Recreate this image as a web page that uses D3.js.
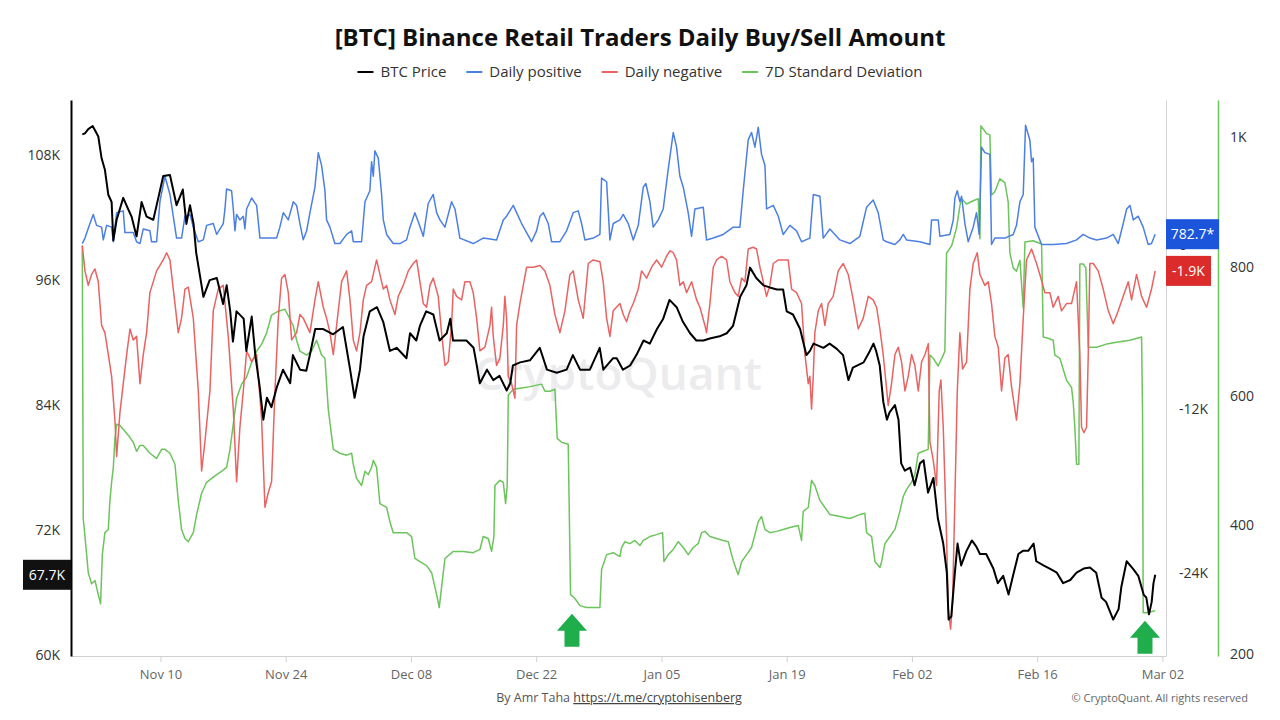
<!DOCTYPE html>
<html>
<head>
<meta charset="utf-8">
<script src="https://cdn.jsdelivr.net/npm/d3@7"></script>
<style>
body{margin:0;background:#ffffff;}
svg text{font-family:"Open Sans","Noto Sans",sans-serif;}
</style>
</head>
<body>
<div id="chart"></div>
<script>
// all series: [days since 2025-11-01 00:00 UTC, value]
let btcPrice = [[0.26,110.0],[0.56,110.1],[0.93,110.5],[1.42,110.8],[1.86,110.1],[2.05,109.8],[2.42,107.7],[2.79,106.6],[3.17,104.2],[3.54,103.5],[3.73,99.8],[4.10,101.8],[4.84,103.9],[5.40,102.8],[5.77,102.1],[6.33,100.2],[6.89,103.5],[7.45,102.1],[8.20,101.8],[8.76,103.9],[9.31,106.0],[10.06,106.1],[10.80,103.2],[11.50,104.7],[11.90,101.4],[12.30,103.2],[12.70,101.4],[13.00,98.6],[13.40,96.5],[13.80,94.4],[14.50,96.0],[15.30,96.2],[16.00,93.7],[16.40,95.5],[16.80,93.0],[17.10,90.1],[17.50,93.0],[18.30,92.3],[18.60,89.2],[19.20,92.5],[19.60,88.8],[20.10,85.7],[20.50,82.6],[20.90,84.7],[21.40,83.8],[22.00,85.7],[22.70,87.4],[23.50,86.1],[23.80,88.8],[24.60,87.4],[25.30,87.3],[25.70,88.8],[26.30,91.3],[27.20,91.3],[28.30,90.8],[29.40,91.5],
  [30.2,87.4],[30.7,84.7],[31.3,87.4],[31.7,90.6],[32.4,93.0],[33.2,93.4],[33.9,92.0],[34.65,89.2],[35.4,89.5],[36.5,88.5],[36.9,90.9],[37.6,90.2],[38.0,91.6],[38.7,93.0],[39.5,92.7],[40.2,90.2],[41.0,90.9],[41.4,92.3],[41.7,90.2],[43.2,90.2],[44.0,89.5],[44.3,88.1],[44.7,86.1],[45.5,87.4],[46.2,86.4],[46.9,86.8],[47.7,85.4],[48.1,86.1],[48.4,87.8],[49.2,88.1],[50.3,88.3],[51.4,89.5],[52.2,87.4],[53.3,87.1],[54.4,87.4],[55.1,88.8],[55.9,87.4],[57.0,87.4],[58.1,89.5],[58.5,87.4],[59.6,88.5],
  [60.0,88.5],[60.7,87.4],[61.5,87.8],[62.2,88.8],[63.0,90.2],[63.7,89.9],[64.5,91.3],[65.2,92.3],[65.9,94.1],[66.7,93.4],[67.4,92.0],[68.2,90.9],[68.9,90.2],[69.7,90.2],[70.4,90.4],[71.5,90.6],[72.3,90.9],[73.0,91.6],[73.8,94.4],[74.5,95.5],[74.9,97.2],[75.6,96.2],[76.4,95.5],[77.1,95.3],[77.9,95.1],[78.6,95.1],[79.0,93.0],[79.7,92.7],[80.5,91.3],[81.2,88.8],[81.6,89.2],[82.0,89.9],[83.1,89.5],[83.8,89.9],[84.6,89.4],[85.3,88.8],[85.9,86.4],[86.4,87.6],[87.6,88.1],[88.3,89.2],[88.7,89.9],[89.0,89.2],
  [89.4,87.8],[89.8,84.3],[90.2,82.6],[90.5,83.3],[91.1,84.0],[91.5,82.6],[91.8,78.4],[92.2,77.7],[92.8,78.0],[93.3,76.3],[93.9,78.4],[94.3,78.7],[94.8,75.6],[95.4,77.0],[95.9,73.1],[96.5,70.7],[96.9,67.9],[97.1,63.4],[97.4,63.7],[97.8,67.9],[98.1,70.7],[98.5,68.6],[99.1,70.0],[99.7,71.0],[100.2,70.4],[100.6,69.7],[101.3,69.7],[102.1,68.3],[102.6,66.9],[103.2,67.6],[103.8,65.8],[104.3,67.6],[104.9,69.7],[105.4,70.0],[106.0,70.0],[106.6,70.7],[106.9,69.0],[107.7,68.6],[108.4,68.3],[109.2,67.9],[109.9,66.9],[110.7,67.2],[111.4,67.9],[112.2,68.3],[112.9,68.4],[113.6,67.9],[114.2,65.5],[114.7,65.1],[115.5,63.4],[116.1,64.4],[116.4,66.5],[117.0,69.0],[117.7,68.3],[118.3,67.6],[118.9,65.8],[119.2,65.5],[119.5,63.9],[119.8,65.1],[120.0,66.9],[120.2,67.7]];

let dailyPositive = [[0.26,100],[0.56,500],[1.12,1560],[1.49,2230],[1.86,1430],[2.42,1300],[2.61,370],[2.98,1430],[3.54,1300],[3.73,230],[4.10,2360],[4.84,2490],[5.03,900],[5.96,900],[6.33,230],[6.71,100],[7.08,1170],[7.82,1030],[8.01,230],[8.57,230],[8.94,3160],[9.50,5020],[10.06,3690],[10.43,2100],[10.80,500],[11.36,500],[11.74,2100],[12.30,2230],[12.67,1300],[13.23,230],[13.79,370],[14.16,1430],[14.90,1560],[15.28,770],[16.02,1560],[16.21,2630],[16.39,4090],[16.95,3960],[17.14,2630],[17.33,1030],[17.51,2230],[17.88,1830],[18.26,2100],[18.44,1170],[18.63,2630],[19.19,3430],[19.75,2890],[20.12,500],[20.86,500],[21.98,500],[22.35,1300],[22.73,2360],[23.29,1830],[23.85,3160],[24.22,2890],[24.59,1560],[24.96,370],[25.34,1030],[25.71,2360],[26.27,4225],[26.64,6750],[27.01,5820],[27.38,4000],[27.57,1830],[27.94,1300],[28.50,100],[29.06,100],[29.81,770],
  [30.37,1030],[30.55,233],[31.48,233],[31.86,3160],[32.41,3960],[32.60,6090],[32.79,5020],[32.97,6880],[33.35,6350],[33.72,3690],[33.91,1830],[34.28,765],[35.02,100],[35.77,100],[36.51,366],[36.89,1300],[37.44,2360],[37.82,1700],[38.38,632],[38.93,3030],[39.49,3690],[39.87,2360],[40.24,1830],[40.80,1300],[41.54,3160],[41.92,2630],[42.47,500],[43.96,100],[45.08,500],[46.57,366],[47.32,1830],[47.69,2100],[48.44,2890],[48.81,2360],[49.37,1565],[49.93,900],[50.48,233],[51.04,1030],[51.42,2100],[51.79,2360],[52.35,1565],[52.72,233],[53.65,233],[54.40,1030],[55.14,2360],[55.70,2490],[56.07,1565],[56.45,366],[57.38,500],[58.12,765],[58.31,4890],[58.87,4620],[59.24,366],[59.61,1565],[60.36,1830],
  [60.73,2230],[61.29,1565],[61.85,366],[62.41,1430],[62.97,4225],[63.26,4490],[63.71,3160],[64.08,1300],[64.64,1830],[65.20,2630],[65.76,5550],[66.32,8220],[66.69,7150],[67.06,5020],[67.44,4225],[67.99,2360],[68.37,632],[68.74,2630],[69.67,2760],[70.04,366],[70.79,500],[71.91,765],[73.03,1300],[73.77,1300],[74.14,3960],[74.70,7680],[75.07,8220],[75.45,7150],[75.82,8610],[76.19,6620],[76.57,5820],[76.75,2630],[77.50,2890],[78.06,2100],[78.61,765],[79.36,1430],[80.10,1030],[80.66,233],[81.59,500],[81.97,3690],[82.71,3560],[83.09,500],[83.83,1165],[84.95,366],[86.07,100],[87.18,632],[87.93,2760],[88.67,3290],[89.23,2360],[89.79,366],
  [90.16,233],[91.10,30],[91.65,366],[92.03,765],[92.40,366],[93.89,233],[95.01,30],[95.19,1830],[95.94,1830],[96.13,632],[97.24,765],[97.62,1830],[97.80,3430],[98.07,3960],[98.36,3160],[98.55,3560],[98.92,1565],[99.29,233],[99.85,1300],[100.22,2360],[100.52,765],[100.78,7150],[101.15,6750],[101.71,6620],[101.90,30],[102.27,500],[103.39,500],[104.32,765],[104.69,1430],[105.07,3160],[105.44,3690],[105.70,8750],[106.18,7680],[106.37,6090],[106.56,6350],[106.74,1300],[107.49,30],[108.79,30],[110.28,100],[111.40,366],[112.15,765],[112.89,500],[113.64,366],[114.76,500],[115.50,765],[116.06,100],[116.62,1565],[117.00,2630],[117.37,2890],[117.74,1830],[118.30,2100],[118.85,1300],[119.41,30],[119.78,100],[120.19,783]];

let dailyNegative = [[0.26,-30],[0.56,-1900],[0.93,-2960],[1.30,-2160],[1.68,-1760],[2.05,-2690],[2.42,-5890],[2.79,-6420],[3.17,-8020],[3.54,-9610],[3.91,-12810],[4.10,-15470],[4.47,-12270],[4.84,-10150],[5.22,-8020],[5.59,-6150],[5.96,-6950],[6.33,-6690],[6.71,-10150],[7.08,-8020],[7.45,-6420],[7.82,-3490],[8.57,-1900],[9.31,-1100],[9.69,-570],[10.06,-1100],[10.62,-4290],[10.99,-6420],[11.36,-5360],[11.74,-3230],[12.11,-3090],[12.67,-5360],[13.23,-10680],[13.60,-16530],[13.97,-14400],[14.53,-10680],[14.90,-4820],[15.46,-3230],[16.02,-2960],[16.58,-6690],[17.14,-12010],[17.51,-17330],[17.88,-13340],[18.26,-10680],[18.63,-7750],[19.19,-8550],[19.75,-8020],[20.31,-12810],[20.68,-19190],[21.05,-18130],[21.42,-17330],[21.80,-10680],[22.17,-5360],[22.54,-2430],[22.91,-2160],[23.29,-3490],[23.66,-6950],[24.22,-6420],[24.59,-5090],[24.96,-5360],[25.71,-6420],[26.27,-4020],[26.64,-2690],[27.20,-4560],[27.57,-5360],[27.94,-6420],[28.32,-8020],[28.69,-5890],[29.25,-2690],[29.81,-1900],[30.18,-4000],
  [30.55,-6950],[30.92,-7750],[31.30,-6420],[31.67,-4020],[32.04,-2960],[32.60,-2690],[33.16,-1100],[33.53,-2160],[33.91,-3230],[34.28,-2960],[34.65,-4020],[35.21,-5090],[35.58,-3760],[36.14,-2960],[36.70,-1900],[37.26,-1360],[37.63,-1100],[38.00,-2690],[38.38,-4290],[38.75,-4560],[39.12,-2960],[39.49,-2430],[40.05,-3760],[40.42,-6420],[40.80,-8820],[41.17,-8550],[41.54,-5890],[41.73,-3230],[42.10,-3760],[42.66,-4020],[43.03,-2690],[43.59,-2690],[43.96,-3490],[44.34,-5360],[44.71,-7750],[45.27,-7480],[45.83,-5890],[46.01,-4560],[46.20,-6690],[46.57,-8820],[46.94,-8280],[47.32,-5890],[47.50,-3760],[47.69,-5360],[47.88,-9610],[48.25,-10150],[48.62,-11210],[48.81,-5890],[49.18,-4290],[49.93,-1630],[50.67,-1630],[51.42,-1500],[51.98,-1900],[52.53,-2960],[53.09,-5090],[53.65,-6420],[54.21,-4820],[54.77,-2160],[55.14,-1900],[55.70,-4020],[56.26,-5360],[56.82,-1360],[57.38,-1100],[58.12,-1230],[58.49,-2690],[58.87,-5360],[59.24,-6690],[59.61,-4820],[60.36,-4290],
  [60.73,-5090],[61.10,-5620],[61.48,-4820],[61.85,-4290],[62.41,-3230],[62.78,-1900],[63.34,-2430],[63.90,-1630],[64.46,-1100],[65.02,-1630],[65.57,-830],[65.95,-430],[66.32,-570],[66.69,-1100],[67.06,-2960],[67.44,-2690],[67.81,-3490],[68.37,-2690],[68.93,-4020],[69.30,-4560],[69.86,-5890],[70.04,-6420],[70.42,-4290],[70.79,-1630],[71.16,-1100],[71.72,-830],[72.28,-1100],[72.65,-2690],[73.21,-3490],[73.58,-3760],[73.96,-2430],[74.33,-2690],[74.70,-300],[75.26,-170],[75.63,-300],[76.01,-1630],[76.57,-3230],[76.75,-3760],[77.12,-2960],[77.50,-1360],[78.06,-1100],[78.61,-1100],[79.17,-1100],[79.55,-3230],[80.10,-3490],[80.66,-4290],[81.04,-8020],[81.41,-10150],[81.59,-9610],[81.78,-12010],[81.97,-9610],[82.15,-6420],[82.53,-4820],[82.90,-4290],[83.27,-5890],[83.64,-4290],[84.20,-3760],[84.76,-1900],[85.32,-1360],[85.88,-2160],[86.44,-4020],[87.00,-6150],[87.56,-5360],[88.12,-3760],[88.67,-4020],[89.05,-4560],[89.42,-6150],[89.79,-8020],
  [89.99,-9350],[90.35,-11740],[90.72,-10150],[91.10,-8020],[91.47,-7480],[91.84,-8550],[92.22,-10680],[92.59,-9610],[92.96,-8020],[93.33,-8820],[93.71,-10680],[94.08,-8550],[94.46,-8020],[94.83,-7220],[95.01,-14400],[95.38,-15740],[95.75,-17600],[96.05,-10680],[96.24,-9880],[96.50,-13340],[96.87,-21320],[97.06,-26640],[97.32,-28110],[97.54,-26110],[97.80,-18660],[98.07,-10680],[98.36,-6420],[98.66,-9080],[99.11,-8550],[99.48,-3230],[99.85,-1360],[100.30,-570],[100.60,-2160],[101.15,-2960],[101.53,-2690],[101.90,-4290],[102.27,-6690],[102.65,-7480],[103.02,-10680],[103.39,-8280],[103.76,-8020],[104.14,-10410],[104.69,-12810],[105.07,-10150],[105.44,-5360],[105.81,-1100],[106.37,-300],[106.93,-1360],[107.30,-2160],[107.86,-3490],[108.42,-3490],[108.79,-4560],[109.35,-3760],[109.72,-4820],[110.28,-4290],[110.84,-4290],[111.40,-2690],[111.77,-8020],[111.96,-13340],[112.22,-13740],[112.52,-13340],[112.71,-8020],[112.89,-1360],[113.27,-1360],[113.82,-1900],[114.38,-3230],[114.95,-4820],[115.50,-5760],[116.06,-4820],[116.62,-3760],[117.18,-2690],[117.55,-4020],[118.11,-2160],[118.67,-3760],[119.23,-4560],[119.78,-3230],[120.19,-1900]];

let stdDev = [[0.26,832],[0.37,410],[0.56,382],[0.75,354],[0.93,326],[1.30,309],[1.68,314],[2.05,292],[2.31,278],[2.50,354],[2.79,388],[3.17,393],[3.35,438],[3.54,466],[3.73,489],[3.91,534],[4.10,556],[4.47,554],[4.84,548],[5.40,539],[5.96,528],[6.33,514],[6.71,523],[7.08,523],[7.82,511],[8.57,503],[9.13,517],[9.50,517],[10.06,511],[10.62,494],[10.99,438],[11.36,393],[11.74,379],[12.11,374],[12.67,388],[13.04,416],[13.60,449],[14.16,466],[14.72,472],[15.28,478],[15.83,483],[16.39,489],[16.77,517],[17.14,556],[17.51,596],[18.07,618],[18.63,629],[19.19,652],[19.75,669],[20.31,680],[20.86,697],[21.42,725],[22.17,731],[22.91,734],[23.47,719],[23.85,708],[24.22,686],[24.59,669],[25.34,663],[25.89,669],[26.45,686],[27.01,663],[27.38,658],[27.76,579],[28.32,517],[29.06,511],[29.81,508],
  [30.37,511],[30.55,494],[30.92,472],[31.48,461],[31.86,483],[32.23,478],[32.60,489],[32.79,500],[33.16,489],[33.53,433],[34.28,427],[34.65,405],[35.02,388],[36.51,388],[37.07,382],[37.44,348],[38.00,343],[38.75,337],[39.31,326],[39.87,292],[40.16,272],[40.42,303],[40.80,348],[41.73,359],[42.85,359],[43.96,357],[44.71,362],[45.08,382],[45.64,379],[46.01,359],[46.27,382],[46.39,461],[46.94,469],[47.32,466],[47.58,433],[47.76,461],[47.88,601],[48.44,610],[49.93,613],[51.60,618],[51.98,607],[52.53,607],[53.09,610],[53.35,534],[53.84,528],[54.58,525],[54.84,292],[55.33,286],[55.89,275],[56.63,272],[58.12,272],[58.31,331],[58.87,354],[59.61,357],[60.36,351],
  [60.54,365],[60.92,374],[61.48,371],[62.03,376],[62.59,368],[62.97,376],[63.71,382],[64.46,385],[65.13,388],[65.28,343],[65.76,354],[66.32,362],[66.88,374],[67.44,365],[67.99,354],[68.55,365],[69.11,371],[69.49,388],[69.86,390],[70.42,382],[71.16,379],[71.91,376],[72.47,374],[72.84,354],[73.21,337],[73.58,323],[73.96,343],[74.52,354],[75.07,365],[75.45,385],[75.82,405],[76.19,413],[76.57,393],[77.12,388],[77.87,390],[78.61,393],[79.36,396],[80.29,399],[80.66,376],[80.85,421],[81.41,427],[81.78,469],[82.15,461],[82.71,438],[83.83,416],[84.95,413],[86.07,410],[87.18,416],[87.74,418],[87.93,388],[88.49,382],[88.87,343],[89.42,334],
  [89.61,343],[89.98,371],[90.54,382],[91.10,393],[91.65,421],[92.03,444],[92.40,455],[92.96,466],[93.33,478],[93.71,511],[94.26,514],[94.82,517],[95.01,663],[95.38,658],[95.94,646],[96.50,663],[96.68,669],[96.87,821],[97.43,832],[97.99,860],[98.36,894],[98.55,905],[99.11,897],[99.85,902],[100.41,905],[100.60,843],[100.71,1018],[101.34,1006],[101.71,1004],[101.90,911],[102.27,916],[102.83,936],[103.39,930],[103.76,900],[103.95,821],[104.32,798],[104.69,793],[105.07,810],[105.44,736],[105.63,838],[106.56,840],[107.49,835],[107.68,691],[108.23,689],[108.79,686],[108.98,663],[109.54,658],[110.28,624],[110.84,613],[111.03,590],[111.21,551],[111.40,494],[111.66,494],[111.77,804],[112.15,804],[112.44,798],[112.71,675],[113.64,675],[114.75,680],[115.87,683],[117.36,686],[118.67,691],[118.78,573],[118.85,264],[119.23,264],[120.19,267]];

let seriesNames = ["BTC Price","Daily positive","Daily negative","7D Standard Deviation"];
let seriesColors = ["#000000","#4c7fe3","#e86362","#6cc45c"];
let tickDates = ["2025-11-10","2025-11-24","2025-12-08","2025-12-22","2026-01-05","2026-01-19","2026-02-02","2026-02-16","2026-03-02"];
let priceTicks = [60,72,84,96,108];
let flowTicks = [0,-12000,-24000];
let stdTicks = [200,400,600,800,1000];
let lastPrice = 67.7;
let lastPositive = 782.7;
let lastNegative = -1900;
let arrowDays = [55.0,119.05];

let svgWidth = 1280;
let svgHeight = 720;
let plotLeft = 71, plotRight = 1166, plotTop = 100, plotBottom = 656;
let stdAxisX = 1218;
let t0 = Date.UTC(2025,10,1);
function toDate(d){ return new Date(t0 + d*864e5); }

let svg = d3.select("#chart")
    .append("svg")
    .attr("width", svgWidth)
    .attr("height", svgHeight);

svg.append("rect").attr("width",svgWidth).attr("height",svgHeight).attr("fill","#ffffff");

let x = d3.scaleUtc().domain([toDate(-1), toDate(121.4)]).range([plotLeft, plotRight]);
let yPrice = d3.scaleLinear().domain([59.9, 113.3]).range([plotBottom, plotTop]);
let yFlow = d3.scaleLinear().domain([-30070, 10600]).range([plotBottom, plotTop]);
let yStd = d3.scaleLinear().domain([197, 1058]).range([plotBottom, plotTop]);

// title
svg.append("text")
    .attr("x", 640).attr("y", 46)
    .attr("text-anchor","middle")
    .attr("font-size", 24).attr("font-weight", 700).attr("fill","#111")
    .text("[BTC] Binance Retail Traders Daily Buy/Sell Amount");

// legend, centred on the page
let legend = svg.append("g");
let lx = 0;
seriesNames.forEach(function(name,i){
    legend.append("line")
        .attr("x1", lx).attr("x2", lx+16).attr("y1", 72).attr("y2", 72)
        .attr("stroke", seriesColors[i]).attr("stroke-width", 2);
    let t = legend.append("text")
        .attr("x", lx+23).attr("y", 72).attr("dy","0.35em")
        .attr("font-size", 15).attr("fill","#333")
        .text(name);
    lx = lx + 23 + t.node().getComputedTextLength() + 20;
});
legend.attr("transform","translate(" + (640 - (lx-20)/2) + ",0)");

// watermark
svg.append("text")
    .attr("x", 618).attr("y", 390)
    .attr("text-anchor","middle")
    .attr("font-size", 46).attr("font-weight", 600).attr("fill","#ececee")
    .text("CryptoQuant");

// axes
let xAxis = svg.append("g")
    .attr("transform","translate(0," + plotBottom + ")")
    .call(d3.axisBottom(x).tickValues(tickDates.map(d => new Date(d + "T00:00:00Z")))
        .tickFormat(d3.utcFormat("%b %d")).tickSize(6).tickSizeOuter(0).tickPadding(8));
xAxis.select(".domain").attr("stroke","#d0d0d0");
xAxis.selectAll(".tick line").attr("stroke","#d0d0d0");
xAxis.selectAll("text").attr("font-size",13).attr("fill","#666");

let priceAxis = svg.append("g")
    .attr("transform","translate(" + plotLeft + ",0)")
    .call(d3.axisLeft(yPrice).tickValues(priceTicks).tickFormat(d => d + "K").tickSize(0).tickPadding(11));
priceAxis.select(".domain").attr("stroke","#000").attr("stroke-width",2);
priceAxis.selectAll("text").attr("font-size",14).attr("fill","#333");

let flowAxis = svg.append("g")
    .attr("transform","translate(" + plotRight + ",0)")
    .call(d3.axisRight(yFlow).tickValues(flowTicks).tickFormat(d => d === 0 ? "0" : (d/1000) + "K").tickSize(0).tickPadding(13));
flowAxis.select(".domain").attr("stroke","#d4d4d8");
flowAxis.selectAll("text").attr("font-size",14).attr("fill","#333");

let stdAxis = svg.append("g")
    .attr("transform","translate(" + stdAxisX + ",0)")
    .call(d3.axisRight(yStd).tickValues(stdTicks).tickFormat(d => d >= 1000 ? (d/1000) + "K" : d).tickSize(0).tickPadding(12));
stdAxis.select(".domain").attr("stroke", seriesColors[3]).attr("stroke-width",1.5);
stdAxis.selectAll("text").attr("font-size",14).attr("fill","#333");

svg.selectAll("g").attr("font-family",null);

// lines
let plot = svg.append("g");
function drawLine(data, yScale, color, w){
    plot.append("path")
        .datum(data)
        .attr("fill","none")
        .attr("stroke", color)
        .attr("stroke-width", w)
        .attr("stroke-linejoin","round")
        .attr("d", d3.line().x(d => x(toDate(d[0]))).y(d => yScale(d[1])));
}
drawLine(stdDev, yStd, seriesColors[3], 1.5);
drawLine(dailyNegative, yFlow, seriesColors[2], 1.5);
drawLine(dailyPositive, yFlow, seriesColors[1], 1.5);
drawLine(btcPrice, yPrice, seriesColors[0], 2);

// up arrows under the green lows
arrowDays.forEach(function(d){
    let cx = x(toDate(d));
    let tip = yStd(d3.min(stdDev.filter(p => Math.abs(p[0]-d) < 1.2), p => p[1])) + 8;
    let pts = [[cx,tip],[cx+15,tip+17],[cx+7.5,tip+17],[cx+7.5,tip+33],[cx-7.5,tip+33],[cx-7.5,tip+17],[cx-15,tip+17]];
    svg.append("path")
        .attr("d", "M" + pts.map(p => p.join(",")).join("L") + "Z")
        .attr("fill","#1fae4b");
});

// current value badges (drawn over the right axis labels, as in the source)
function badge(bx, cy, w, fill, label){
    svg.append("rect")
        .attr("x", bx).attr("y", cy-15).attr("width", w).attr("height", 30)
        .attr("fill", fill);
    svg.append("text")
        .attr("x", bx + w/2).attr("y", cy).attr("dy","0.35em")
        .attr("text-anchor","middle")
        .attr("font-size", 14).attr("fill","#fff")
        .text(label);
}
badge(23, yPrice(lastPrice), 48, "#111111", lastPrice.toFixed(1) + "K");
badge(plotRight, yFlow(lastPositive), 53, "#1a55dc", lastPositive.toFixed(1) + "*");
badge(plotRight, yFlow(lastNegative), 45, "#dc2b2b", (lastNegative/1000).toFixed(1) + "K");

// footer
let footer = svg.append("text")
    .attr("x", 619).attr("y", 702)
    .attr("text-anchor","middle")
    .attr("font-size", 12.5).attr("fill","#555");
footer.append("tspan").text("By Amr Taha ");
footer.append("tspan").attr("text-decoration","underline").attr("fill","#444").text("https://t.me/cryptohisenberg");

svg.append("text")
    .attr("x", 1248).attr("y", 702)
    .attr("text-anchor","end")
    .attr("font-size", 11).attr("fill","#666")
    .text("\u00a9 CryptoQuant. All rights reserved");
</script>
</body>
</html>
